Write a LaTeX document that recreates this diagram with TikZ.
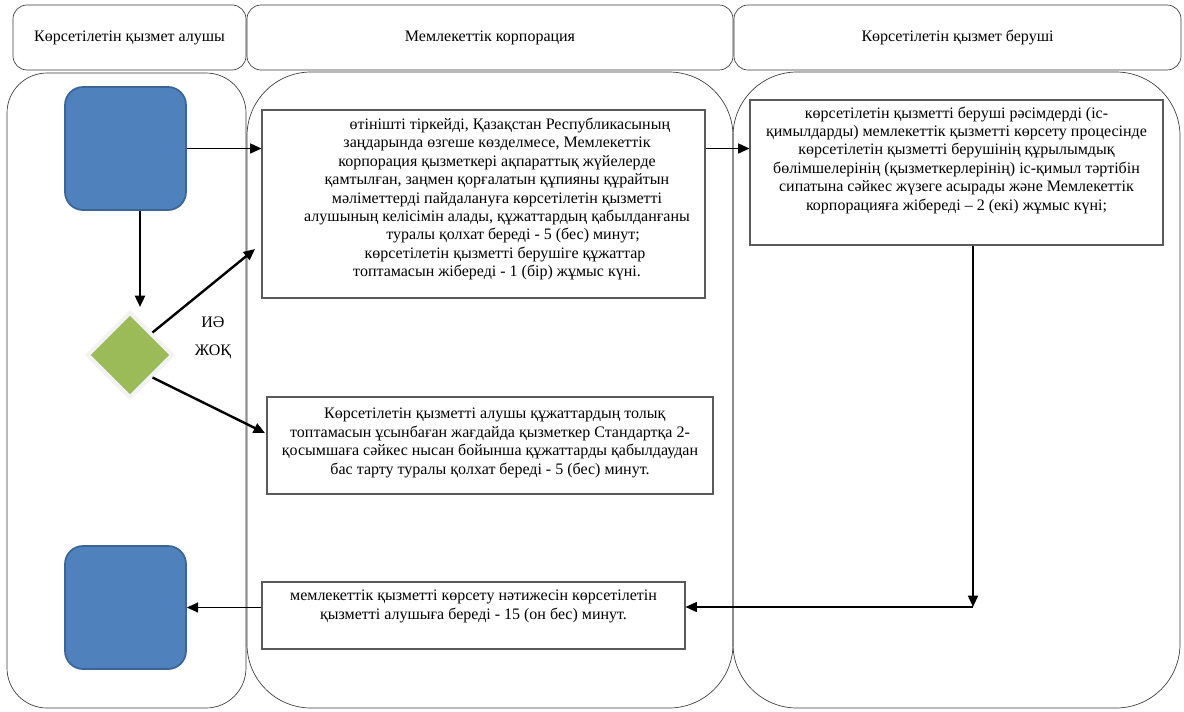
\documentclass[tikz,border=0pt]{standalone}
\usepackage{fontspec}
\setmainfont{Liberation Serif}
\newfontfamily\tnrfont{Liberation Serif}
\usetikzlibrary{shapes.geometric,arrows.meta}
\definecolor{bluefill}{HTML}{4F81BD}
\definecolor{blueedge}{HTML}{3B6596}
\definecolor{greenfill}{HTML}{9BBB59}
\definecolor{lanec}{HTML}{3A3A3A}
\definecolor{boxc}{HTML}{5A5A5A}
\begin{document}
\begin{tikzpicture}[x=0.75pt,y=-0.75pt,
 lane/.style={draw=lanec,line width=0.5pt},
 hdr/.style={draw=lanec,line width=0.5pt,rounded corners=10.5pt,minimum height=48.75pt,inner sep=0pt,font=\tnrfont\fontsize{12}{14}\selectfont},
 term/.style={draw=blueedge,fill=bluefill,line width=1.3pt,rounded corners=13.5pt,minimum width=90.75pt,minimum height=92.25pt,inner sep=0pt},
 dec/.style={diamond,aspect=1,fill=greenfill,draw=black!5,line width=3pt,minimum width=64.5pt,minimum height=64.5pt,inner sep=0pt},
 proc/.style={draw=boxc,line width=0.8pt,inner sep=0pt},
 txt/.style={align=center,inner sep=0pt,font=\tnrfont\fontsize{12}{13.8}\selectfont},
 arr/.style={line width=1.2pt,-{Triangle[length=8.5pt,width=7.5pt]}},
 arrb/.style={line width=1.8pt,-{Triangle[length=8.5pt,width=7.5pt]}},
]
\useasboundingbox (0,0) rectangle (1184,711);
\fill[white] (0,0) rectangle (1184,711);
% lanes
\draw[lane,rounded corners=30pt] (7,73) rectangle (246,708);
\draw[lane,rounded corners=48pt] (247,72) rectangle (733,708);
\draw[lane,rounded corners=48pt] (733,72) rectangle (1180,708);
% headers
\node[hdr,minimum width=174.75pt] (h1) at (129.5,37.5) {Көрсетілетін қызмет алушы};
\node[hdr,minimum width=364.5pt] (h2) at (490,37.5) {Мемлекеттік корпорация};
\node[hdr,minimum width=335.25pt] (h3) at (957.5,37.5) {Көрсетілетін қызмет беруші};
% terminals and decision
\node[term] (s) at (125.5,148.5) {};
\node[term] (e) at (125.5,607.5) {};
\node[dec] (d) at (130,355) {};
\node[txt] (yes) at (213,322) {ИӘ};
\node[txt] (no) at (213,352) {ЖОҚ};
% process boxes
\node[proc,minimum width=332.25pt,minimum height=141pt] (b1) at (483.5,204) {};
\node[txt] (t1) at (497,199) {\hspace*{1.6em}өтінішті тіркейді, Қазақстан Республикасының\\
заңдарында өзгеше көзделмесе, Мемлекеттік\\
корпорация қызметкері ақпараттық жүйелерде\\
қамтылған, заңмен қорғалатын құпияны құрайтын\\
мәліметтерді пайдалануға көрсетілетін қызметті\\
алушының келісімін алады, құжаттардың қабылданғаны\\
\hspace*{2em}туралы қолхат береді - 5 (бес) минут;\\
\hspace*{1em}көрсетілетін қызметті берушіге құжаттар\\
топтамасын жібереді - 1 (бір) жұмыс күні.};
\node[proc,minimum width=309.75pt,minimum height=108.75pt] (b2) at (956.5,172.5) {};
\node[txt] (t2) at (956.5,160) {көрсетілетін қызметті беруші рәсімдерді (іс-\\
қимылдарды) мемлекеттік қызметті көрсету процесінде\\
көрсетілетін қызметті берушінің құрылымдық\\
бөлімшелерінің (қызметкерлерінің) іс-қимыл тәртібін\\
сипатына сәйкес жүзеге асырады және Мемлекеттік\\
корпорацияға жібереді – 2 (екі) жұмыс күні;};
\node[proc,minimum width=334.5pt,minimum height=72.75pt] (b3) at (490,445.5) {};
\node[txt] (t3) at (490,443) {\hspace*{0.6em}Көрсетілетін қызметті алушы құжаттардың толық\\
топтамасын ұсынбаған жағдайда қызметкер Стандартқа 2-\\
қосымшаға сәйкес нысан бойынша құжаттарды қабылдаудан\\
бас тарту туралы қолхат береді - 5 (бес) минут.};
\node[proc,minimum width=317.25pt,minimum height=50.25pt] (b4) at (473.5,615.5) {};
\node[txt] (t4) at (473.5,606.5) {мемлекеттік қызметті көрсету нәтижесін көрсетілетін\\
қызметті алушыға береді - 15 (он бес) минут.};
% connectors
\coordinate (dtop) at (140,307);
\coordinate (yesend) at (255,249);
\coordinate (noend) at (265,433);
\coordinate (corner) at (973,607);
\draw[arr] (s.east) -- (s.east -| b1.west);
\draw[arr] (s.east -| b1.east) -- (s.east -| b2.west);
\draw[arrb] (s.south -| dtop) -- (dtop);
\draw[arrb] (d.north east) -- (yesend);
\draw[arrb] (d.south east) -- (noend);
\draw[arr] (b2.south -| corner) -- (corner);
\draw[arr] (corner) -- (corner -| b4.east);
\draw[arr] (b4.west |- e.east) -- (e.east);
\end{tikzpicture}
\end{document}
